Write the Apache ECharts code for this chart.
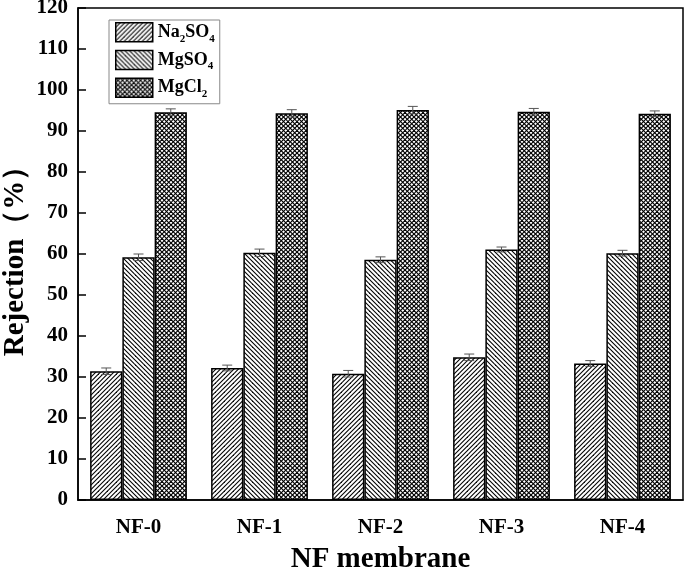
<!DOCTYPE html>
<html><head><meta charset="utf-8">
<script src="https://cdn.jsdelivr.net/npm/echarts@6/dist/echarts.min.js"></script>
<style>html,body{margin:0;padding:0;background:#fff}#c{width:685px;height:583px}</style>
</head><body><div id="c"></div>
<script>
const categories = ['NF-0','NF-1','NF-2','NF-3','NF-4'];
const seriesNames = ['Na2SO4','MgSO4','MgCl2'];
const na2so4 = [31.4, 32.2, 30.8, 34.8, 33.3];
const mgso4 = [59.2, 60.3, 58.6, 61.1, 60.2];
const mgcl2 = [94.6, 94.3, 95.1, 94.7, 94.2];
const na2so4Err = [0.8, 0.7, 0.8, 0.8, 0.7];
const mgso4Err = [0.8, 0.9, 0.7, 0.6, 0.7];
const mgcl2Err = [0.8, 0.9, 0.9, 0.8, 0.7];
const yTicks = [0,10,20,30,40,50,60,70,80,90,100,110,120];

function hatch(kind){
  const s = 9;
  const cv = document.createElement('canvas'); cv.width = s; cv.height = s;
  const ctx = cv.getContext('2d');
  ctx.fillStyle = '#fff'; ctx.fillRect(0,0,s,s);
  ctx.strokeStyle = '#000'; ctx.lineWidth = 1.1;
  function fwd(){ // "/"
    for (let k=-2;k<=2;k++){ const o = k*s/2; ctx.beginPath(); ctx.moveTo(o-1, s+1); ctx.lineTo(o+s+1, -1); ctx.stroke(); }
  }
  function back(){ // "\"
    for (let k=-2;k<=2;k++){ const o = k*s/2; ctx.beginPath(); ctx.moveTo(o-1, -1); ctx.lineTo(o+s+1, s+1); ctx.stroke(); }
  }
  if (kind==='f') fwd();
  else if (kind==='b') back();
  else { ctx.lineWidth = 1.15; fwd(); back(); }
  return {image: cv, repeat: 'repeat'};
}
const patterns = [hatch('f'), hatch('b'), hatch('x')];
const values = [na2so4, mgso4, mgcl2];
const errs = [na2so4Err, mgso4Err, mgcl2Err];
const labelsRich = {
  Na2SO4: '{m|Na}{s|2}{m|SO}{s|4}',
  MgSO4: '{m|MgSO}{s|4}',
  MgCl2: '{m|MgCl}{s|2}'
};
const FONT = '"Liberation Serif", "Times New Roman", serif';

const series = [];
values.forEach((v, i) => {
  series.push({
    name: seriesNames[i], type: 'bar', data: v,
    barCategoryGap: '20%', barGap: '0%',
    itemStyle: {color: patterns[i], borderColor: '#000', borderWidth: 1.5},
    z: 2
  });
});
values.forEach((v, i) => {
  series.push({
    name: 'err' + i, type: 'custom', z: 5,
    data: v.map((val, j) => [j, val, errs[i][j]]),
    renderItem: function(params, api){
      const cx = api.coord([api.value(0), api.value(1)]);
      const w = api.size([1, 0])[0];
      const bw = w * 0.8 / 3;
      const x = cx[0] + (i - 1) * bw;
      const hi = api.coord([api.value(0), api.value(1) + api.value(2)])[1];
      const lo = api.coord([api.value(0), api.value(1) - api.value(2)])[1];
      const cap = 5;
      const st = {stroke: '#555', lineWidth: 1};
      return {type: 'group', children: [
        {type: 'line', shape: {x1: x, y1: hi, x2: x, y2: lo}, style: st},
        {type: 'line', shape: {x1: x - cap, y1: hi, x2: x + cap, y2: hi}, style: st},
        {type: 'line', shape: {x1: x - cap, y1: lo, x2: x + cap, y2: lo}, style: st}
      ]};
    }
  });
});

const chart = echarts.init(document.getElementById('c'), null, {renderer: 'canvas'});
chart.setOption({
  animation: false,
  backgroundColor: '#fff',
  textStyle: {fontFamily: FONT},
  grid: {left: 78, right: 2, top: 8, bottom: 83, outerBoundsMode: 'none', containLabel: false,
    show: true, borderColor: '#000', borderWidth: 1.5, backgroundColor: 'transparent'},
  legend: {
    data: seriesNames, orient: 'vertical', left: 109, top: 20,
    icon: 'rect',
    itemWidth: 37, itemHeight: 19, itemGap: 5.5,
    padding: [2, 5, 4, 6],
    borderColor: '#888', borderWidth: 1, backgroundColor: '#fff',
    itemStyle: {borderColor: '#000', borderWidth: 1.5},
    formatter: name => labelsRich[name],
    textStyle: {
      fontFamily: FONT, fontWeight: 'bold', color: '#000',
      rich: {
        m: {fontFamily: FONT, fontWeight: 'bold', fontSize: 18, color: '#000', lineHeight: 24, verticalAlign: 'middle'},
        s: {fontFamily: FONT, fontWeight: 'bold', fontSize: 11, color: '#000', lineHeight: 11, verticalAlign: 'bottom'}
      }
    }
  },
  xAxis: {
    type: 'category', data: categories,
    name: 'NF membrane', nameLocation: 'middle', nameGap: 45, nameMoveOverlap: false,
    nameTextStyle: {fontFamily: FONT, fontWeight: 'bold', fontSize: 29, color: '#000'},
    axisLine: {lineStyle: {color: '#000', width: 1.5}},
    axisTick: {show: false},
    axisLabel: {fontFamily: FONT, fontWeight: 'bold', fontSize: 21, color: '#000', margin: 17}
  },
  yAxis: {
    type: 'value', min: 0, max: 120, interval: 10,
    name: 'Rejection（%）', nameLocation: 'middle', nameGap: 48, nameMoveOverlap: false,
    nameTextStyle: {fontFamily: FONT, fontWeight: 'bold', fontSize: 29, color: '#000'},
    axisLine: {show: true, lineStyle: {color: '#000', width: 1.5}},
    axisTick: {show: true, inside: true, length: 8, lineStyle: {color: '#000', width: 1.5}},
    splitLine: {show: false},
    axisLabel: {fontFamily: FONT, fontWeight: 'bold', fontSize: 21, color: '#000', margin: 10,
      formatter: v => yTicks.includes(v) ? String(v) : ''}
  },
  series: series
});
</script>
</body></html>
